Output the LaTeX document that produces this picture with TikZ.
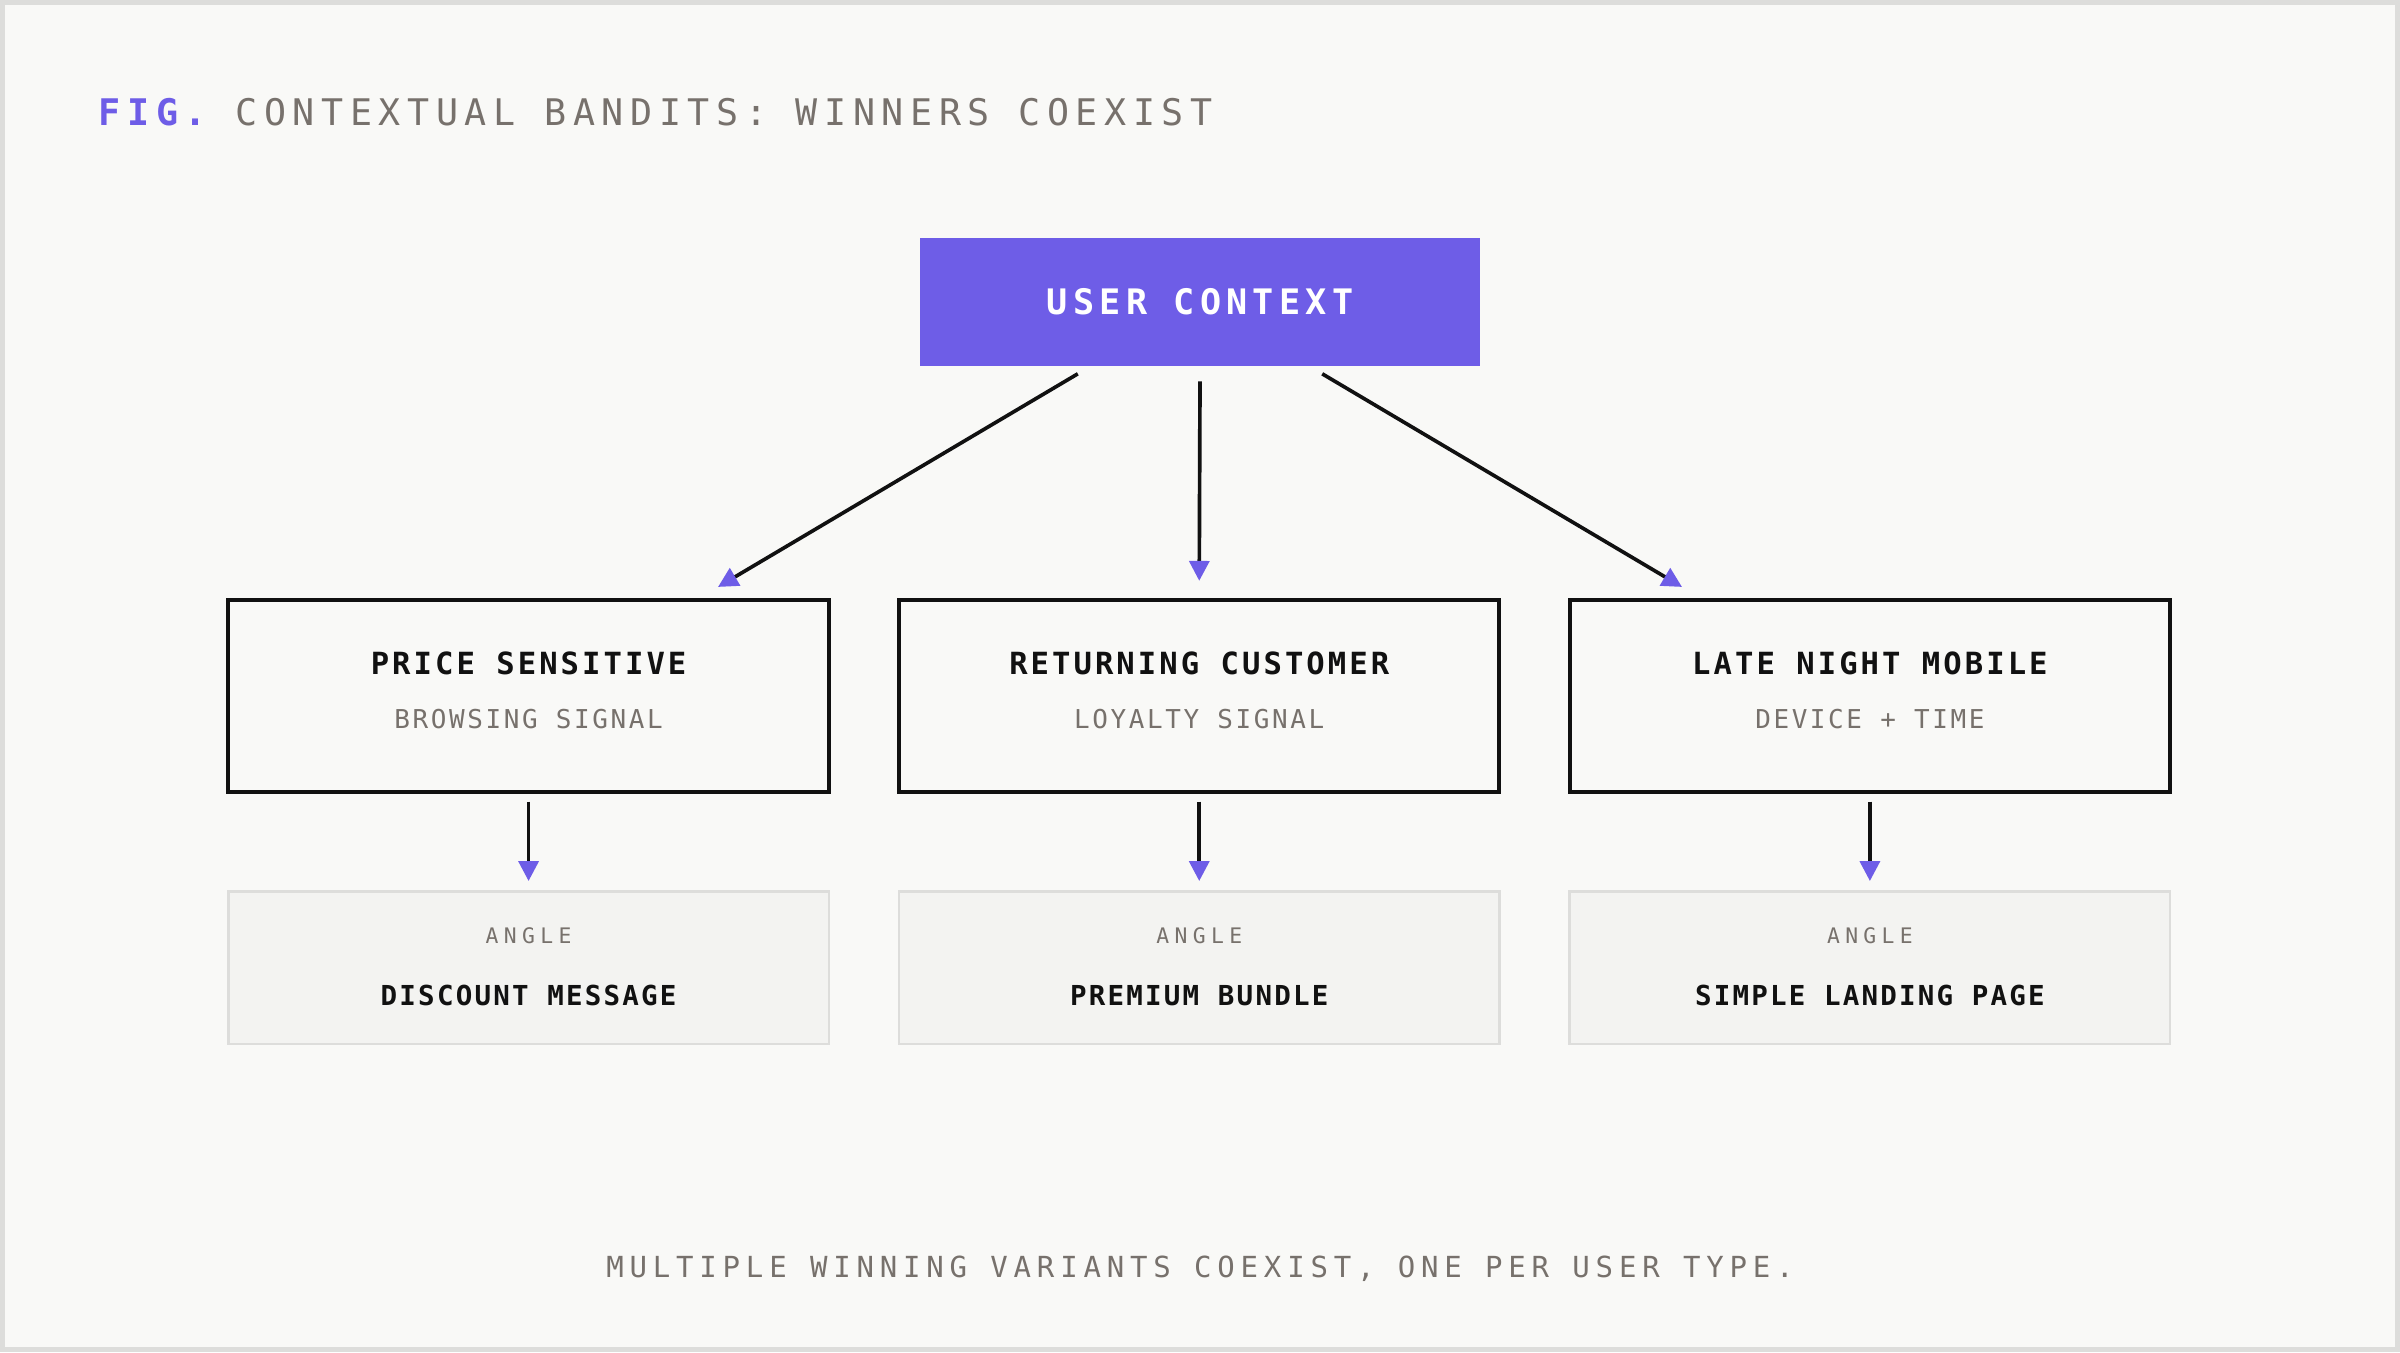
\documentclass[tikz,border=0pt]{standalone}
\usepackage{fontspec}
\setmonofont{DejaVu Sans Mono}
\usetikzlibrary{arrows.meta,positioning}
\definecolor{accent}{HTML}{6E5DE7}
\definecolor{ink}{HTML}{111111}
\definecolor{muted}{HTML}{77716C}
\definecolor{paper}{HTML}{F9F9F7}
\definecolor{soft}{HTML}{F3F3F1}
\definecolor{rule}{HTML}{DDDDDB}
\newcommand{\spaced}[2]{\ttfamily\fontsize{#1}{#1}\selectfont\addfontfeatures{LetterSpace=#2}}
\tikzset{
  segment/.style={draw=ink, line width=2.6pt, fill=paper, minimum width=393pt, minimum height=126pt},
  angle/.style={draw=rule, line width=1.6pt, fill=soft, minimum width=393pt, minimum height=100pt},
  flow/.style={draw=ink, line width=2.4pt, -{Triangle[length=13pt,width=13pt,color=accent]}}
}

\begin{document}
\begin{tikzpicture}[x=1pt,y=-1pt]
	\path[fill=paper, draw=rule, line width=3pt] (0,0) rectangle (1568,882);
	\node[anchor=west, inner sep=0pt] (fig) at (63,72)
		{\spaced{24}{18}{\bfseries\color{accent}FIG.}\ {\color{muted}CONTEXTUAL BANDITS: WINNERS COEXIST}};
	\node[fill=accent, minimum width=366pt, minimum height=84pt, text=white, font={\spaced{23}{15}\bfseries}] (ctx) at (784,196) {USER CONTEXT};
	% segments
	\node[segment] (price) at (344.5,454) {};
	\node[segment] (return) at (783.5,454) {};
	\node[segment] (night) at (1222.5,454) {};
	\foreach \n/\t/\s in {price/PRICE SENSITIVE/BROWSING SIGNAL, return/RETURNING CUSTOMER/LOYALTY SIGNAL, night/LATE NIGHT MOBILE/DEVICE + TIME}{
		\node[font={\spaced{20}{10}\bfseries}, text=ink] (\n-t) at ([yshift=21pt]\n.center) {\t};
		\node[font={\spaced{17}{10}}, text=muted] (\n-s) at ([yshift=-15pt]\n.center) {\s};
	}
	% angles
	\node[angle] (disc) at (344.5,632) {};
	\node[angle] (prem) at (783.5,632) {};
	\node[angle] (simp) at (1222.5,632) {};
	\foreach \n/\t in {disc/DISCOUNT MESSAGE, prem/PREMIUM BUNDLE, simp/SIMPLE LANDING PAGE}{
		\node[font={\spaced{14}{25}}, text=muted] (\n-a) at ([yshift=21pt]\n.center) {ANGLE};
		\node[font={\spaced{18}{8}\bfseries}, text=ink] (\n-t) at ([yshift=-18pt]\n.center) {\t};
	}
	\draw[flow] ([xshift=-80pt,yshift=-5pt]ctx.south) -- ([xshift=124pt,yshift=7pt]price.north);
	\draw[flow] ([yshift=-10pt]ctx.south) -- ([yshift=11pt]return.north);
	\draw[flow] ([xshift=80pt,yshift=-5pt]ctx.south) -- ([xshift=-123pt,yshift=7pt]night.north);
	\draw[flow] ([yshift=-5pt]price.south) -- ([yshift=6pt]disc.north);
	\draw[flow] ([yshift=-5pt]return.south) -- ([yshift=6pt]prem.north);
	\draw[flow] ([yshift=-5pt]night.south) -- ([yshift=6pt]simp.north);
	\node[font={\spaced{19}{20}}, text=muted] (note) at (784,829) {MULTIPLE WINNING VARIANTS COEXIST, ONE PER USER TYPE.};
\end{tikzpicture}
\end{document}
